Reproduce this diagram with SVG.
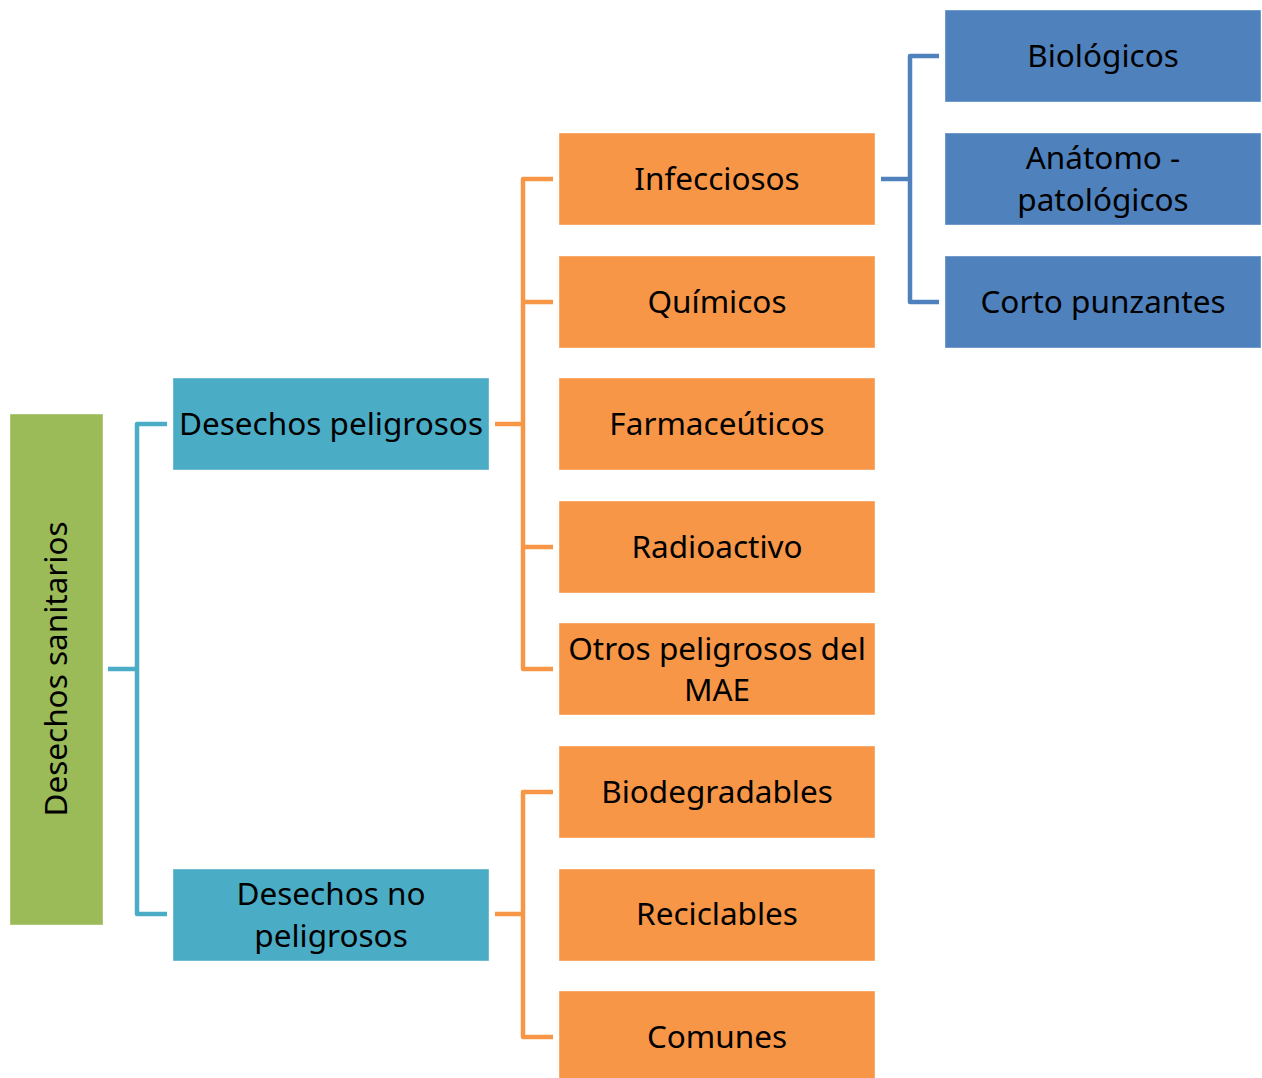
<svg xmlns="http://www.w3.org/2000/svg" width="1262" height="1078" viewBox="0 0 1262 1078">
<style>
text{font-family:"Noto Sans","Open Sans",sans-serif;font-size:31.5px;fill:#000;text-anchor:middle;dominant-baseline:central}
.g{fill:#9BBB59}.t{fill:#4BACC6}.o{fill:#F79646}.b{fill:#4F81BD}
.box{stroke:#fff;stroke-opacity:0.4;stroke-width:1}
.ct{stroke:#4BACC6}.co{stroke:#F79646}.cb{stroke:#4F81BD}
#connectors path{fill:none;stroke-width:4.5;stroke-linejoin:round}
</style>
<rect width="1262" height="1078" fill="#fff"/>
<g id="connectors">
<path class="ct" d="M108 669H137M167 424H137V914H167"/>
<path class="co" d="M495 424H523M553 179H523V669H553M523 302H553M523 547H553"/>
<path class="co" d="M495 914H523M553 792H523V1037H553"/>
<path class="cb" d="M881 179H910M939 56H910V302H939"/>
</g>
<g id="n-sanitarios"><rect class="g box" x="10" y="414" width="93" height="511"/><text transform="translate(54 669) rotate(-90)">Desechos sanitarios</text></g>
<g id="n-peligrosos"><rect class="t box" x="173" y="378" width="316" height="92"/><text x="331" y="422">Desechos peligrosos</text></g>
<g id="n-nopeligrosos"><rect class="t box" x="173" y="869" width="316" height="92"/><text x="331" y="892">Desechos no</text><text x="331" y="934">peligrosos</text></g>
<g id="n-infecciosos"><rect class="o box" x="559" y="133" width="316" height="92"/><text x="717" y="177">Infecciosos</text></g>
<g id="n-quimicos"><rect class="o box" x="559" y="256" width="316" height="92"/><text x="717" y="300">Químicos</text></g>
<g id="n-farmaceuticos"><rect class="o box" x="559" y="378" width="316" height="92"/><text x="717" y="422">Farmaceúticos</text></g>
<g id="n-radioactivo"><rect class="o box" x="559" y="501" width="316" height="92"/><text x="717" y="545">Radioactivo</text></g>
<g id="n-otros"><rect class="o box" x="559" y="623" width="316" height="92"/><text x="717" y="647">Otros peligrosos del</text><text x="717" y="688">MAE</text></g>
<g id="n-biodegradables"><rect class="o box" x="559" y="746" width="316" height="92"/><text x="717" y="790">Biodegradables</text></g>
<g id="n-reciclables"><rect class="o box" x="559" y="869" width="316" height="92"/><text x="717" y="912">Reciclables</text></g>
<g id="n-comunes"><rect class="o box" x="559" y="991" width="316" height="92"/><text x="717" y="1035">Comunes</text></g>
<g id="n-biologicos"><rect class="b box" x="945" y="10" width="316" height="92"/><text x="1103" y="54">Biológicos</text></g>
<g id="n-anatomo"><rect class="b box" x="945" y="133" width="316" height="92"/><text x="1103" y="156">Anátomo -</text><text x="1103" y="198">patológicos</text></g>
<g id="n-corto"><rect class="b box" x="945" y="256" width="316" height="92"/><text x="1103" y="300">Corto punzantes</text></g>
</svg>
